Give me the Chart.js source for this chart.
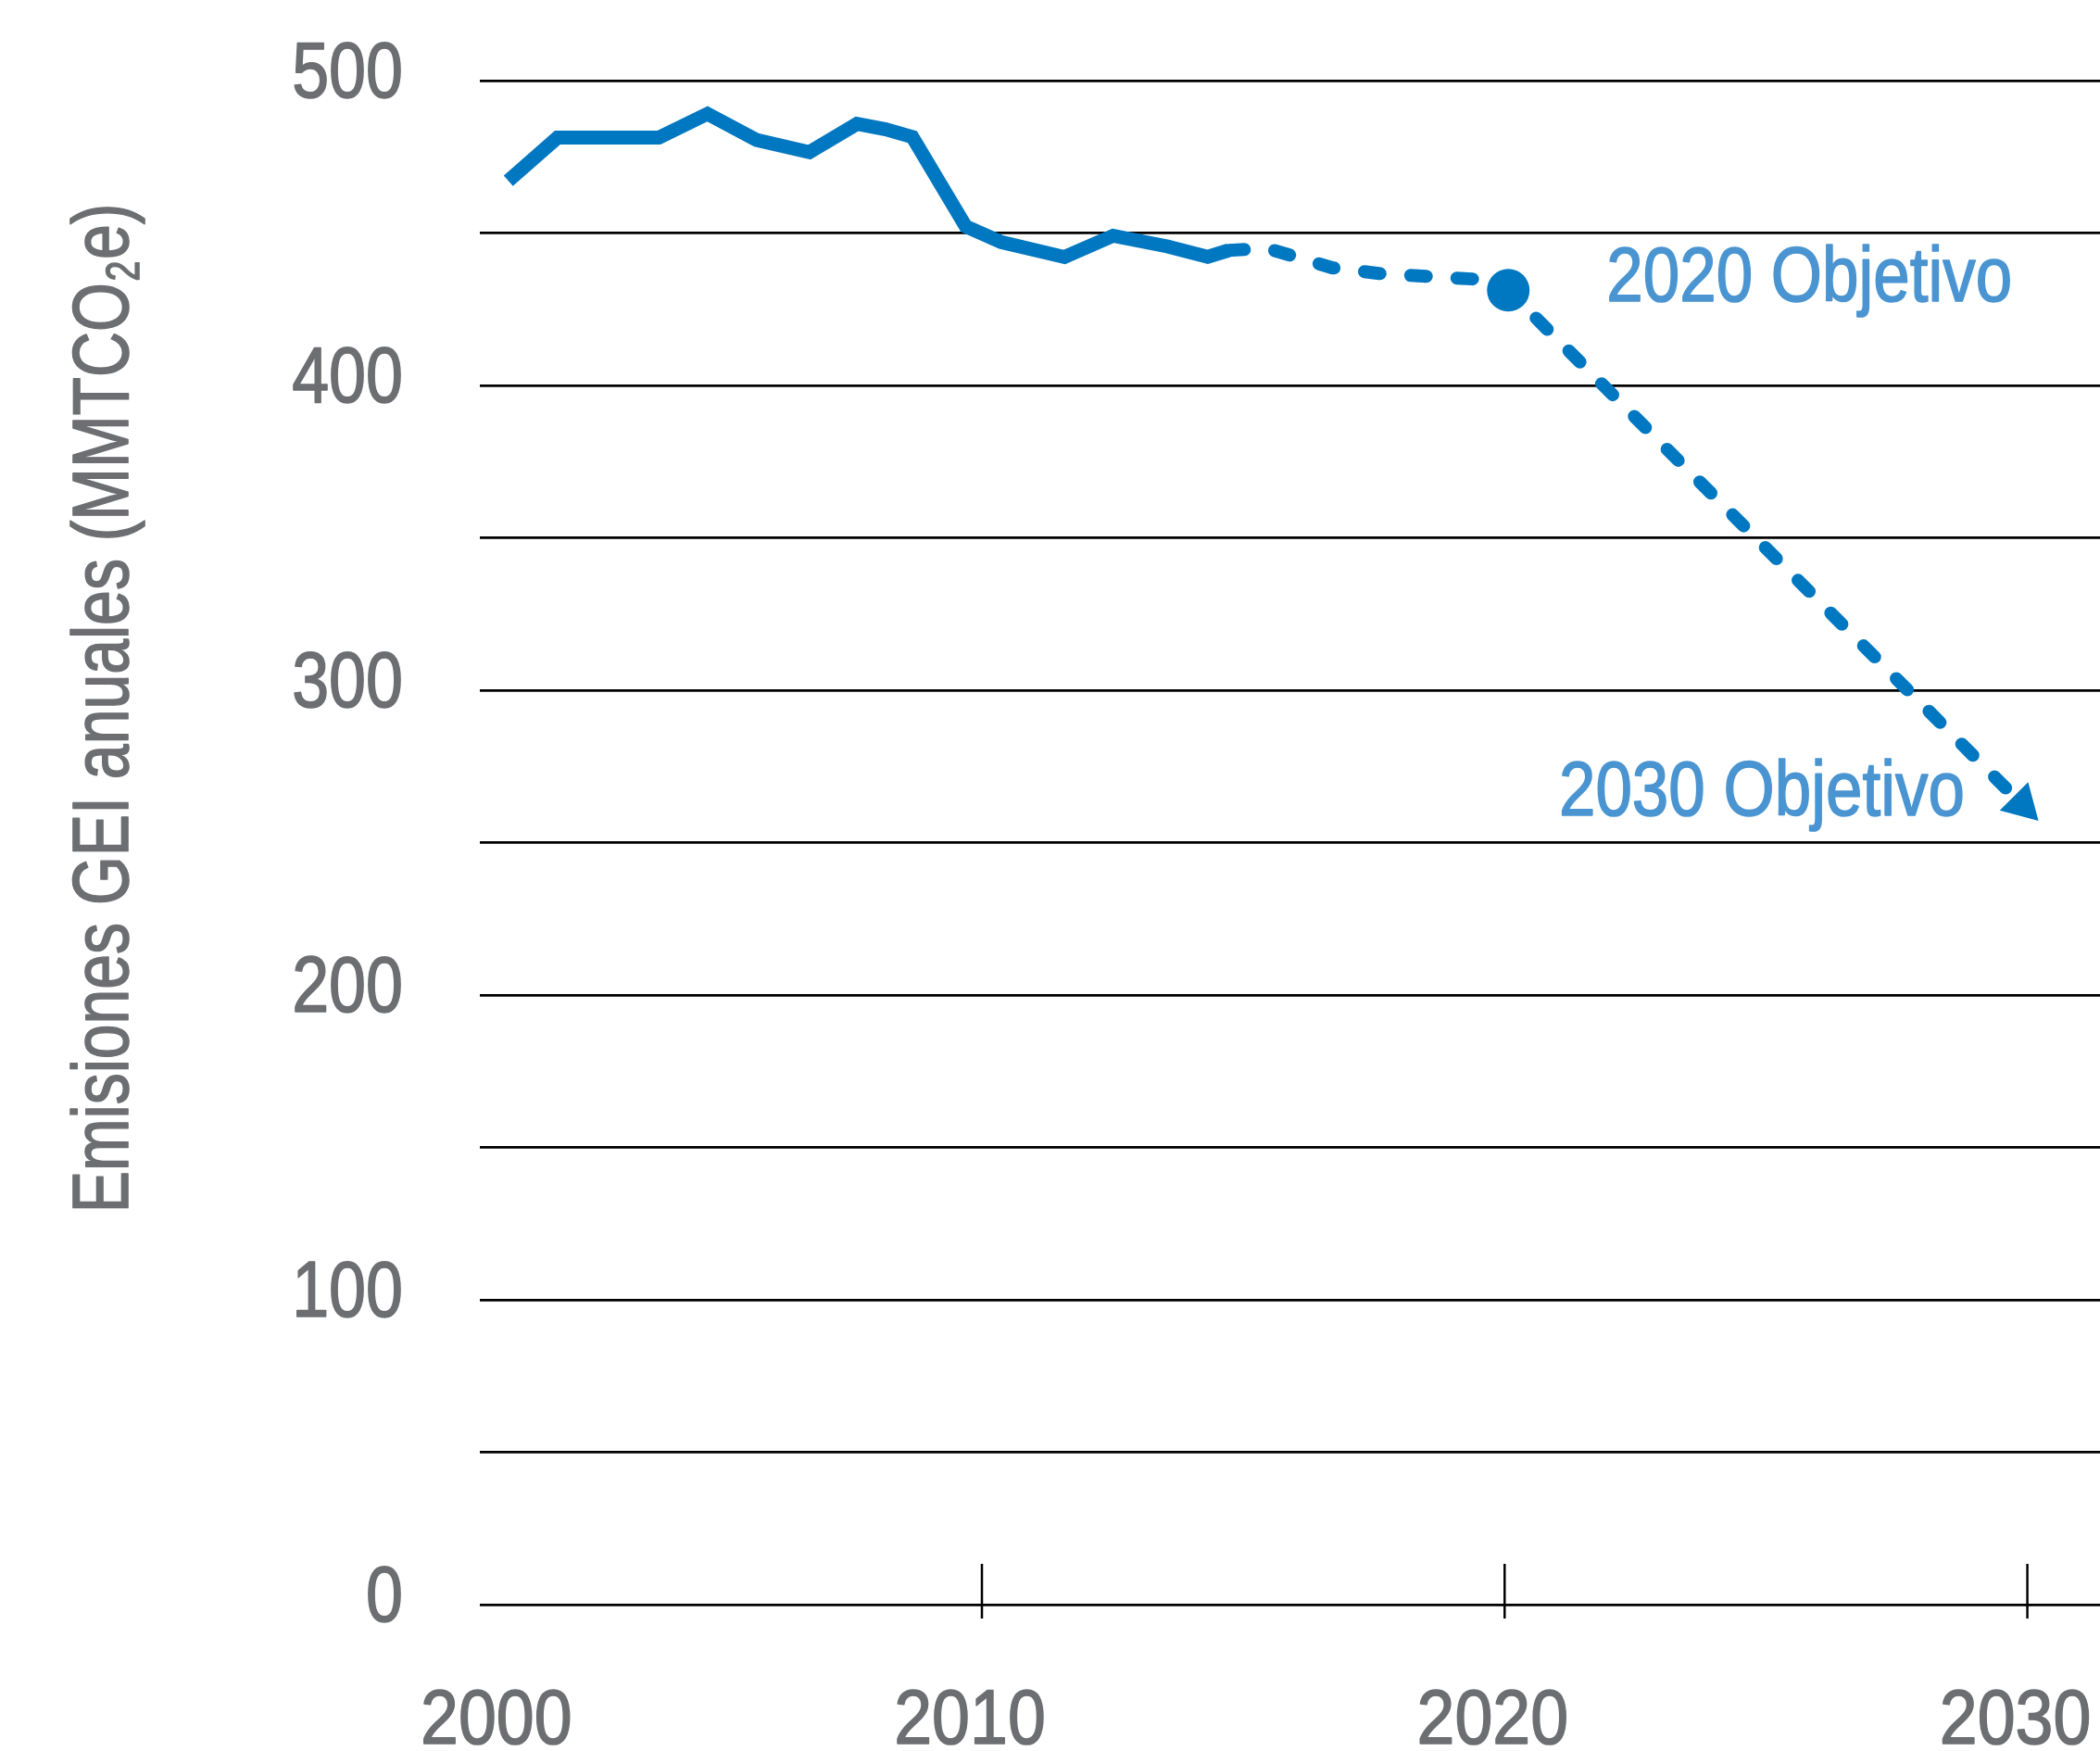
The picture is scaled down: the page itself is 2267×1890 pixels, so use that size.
<!DOCTYPE html>
<html>
<head>
<meta charset="utf-8">
<script src="https://cdn.jsdelivr.net/npm/chart.js@4.4.0/dist/chart.umd.min.js"></script>
<style>
  html, body { margin: 0; padding: 0; background: #fff; }
</style>
</head>
<body>
<canvas id="chart" width="2267" height="1890"></canvas>
<script>
// emissions (MMTCO2e); x as read against the printed year ticks
const histYears  = [2000.94, 2001.88, 2003.82, 2004.75, 2005.69, 2006.70, 2007.61, 2008.16, 2008.67, 2009.69, 2010.37, 2011.58, 2012.51, 2013.55, 2014.32, 2014.72];
const histValues = [467.1, 481.3, 481.3, 489.1, 480.5, 476.5, 485.8, 484.0, 481.5, 452.2, 447.0, 442.1, 449.1, 445.6, 442.2, 444.3];

// projection / targets (dashed)
const projYears  = [2014.72, 2015.45, 2016.70, 2017.60, 2019.40, 2020.07, 2029.90];
const projValues = [444.3, 445.0, 438.6, 436.7, 434.9, 431.2, 262.5];

const xTickMarks  = [2010, 2020, 2030];
const xTickLabels = ['2000', '2010', '2020', '2030'];
const yTitle = ['Emisiones GEI anuales (MMTCO', '2', 'e)'];
const target2020 = '2020 Objetivo';
const target2030 = '2030 Objetivo';

const BLUE = '#0077c1';
const LABEL_BLUE = '#4a95d1';
const GREY = '#6d6e71';
const FONT = '"Liberation Sans", Arial, sans-serif';
const SQUEEZE = 0.845;   // fake a condensed face

// condensed text, with a thin stroke to get closer to the medium weight
function narrowText(ctx, text, x, y, size, color, align, sx) {
  ctx.save();
  ctx.font = size + 'px ' + FONT;
  ctx.fillStyle = color;
  ctx.strokeStyle = color;
  ctx.lineWidth = 1.6;
  ctx.lineJoin = 'round';
  ctx.textAlign = align;
  ctx.textBaseline = 'alphabetic';
  ctx.translate(x, y);
  ctx.scale(sx || SQUEEZE, 1);
  ctx.fillText(text, 0, 0);
  ctx.strokeText(text, 0, 0);
  ctx.restore();
}

const extras = {
  id: 'extras',
  afterDatasetsDraw(chart) {
    const { ctx, scales: { x, y } } = chart;
    ctx.save();

    // short tick marks crossing the zero line
    const y0 = y.getPixelForValue(0);
    ctx.strokeStyle = '#000';
    ctx.lineWidth = 2.5;
    xTickMarks.forEach(v => {
      const px = x.getPixelForValue(v);
      ctx.beginPath();
      ctx.moveTo(px, y0 - 44);
      ctx.lineTo(px, y0 + 15);
      ctx.stroke();
    });

    // axis labels
    y.ticks.forEach((t, i) => {
      if (t.value % 100 !== 0) return;
      narrowText(ctx, String(t.value), 435, y.getPixelForTick(i) + 18, 85, GREY, 'right');
    });
    x.ticks.forEach((t, i) => {
      narrowText(ctx, xTickLabels[i], x.getPixelForTick(i) - 13, y0 + 150, 84, GREY, 'center', 0.875);
    });

    // target labels
    let px = x.getPixelForValue(projYears[5]);
    let py = y.getPixelForValue(projValues[5]);
    narrowText(ctx, target2020, px + 106, py + 12, 84, LABEL_BLUE, 'left');
    px = x.getPixelForValue(projYears[6]);
    py = y.getPixelForValue(projValues[6]);
    narrowText(ctx, target2030, px - 62, py + 12, 84, LABEL_BLUE, 'right');

    // rotated y title with subscript 2
    ctx.fillStyle = GREY;
    ctx.strokeStyle = GREY;
    ctx.lineWidth = 1.6;
    ctx.lineJoin = 'round';
    ctx.textAlign = 'left';
    ctx.textBaseline = 'alphabetic';
    ctx.translate(138, 766);
    ctx.rotate(-Math.PI / 2);
    ctx.scale(0.79, 1);
    const big = '86px ' + FONT, small = '50px ' + FONT;
    ctx.font = big;
    const wa = ctx.measureText(yTitle[0]).width;
    const wc = ctx.measureText(yTitle[2]).width;
    ctx.font = small;
    const wb = ctx.measureText(yTitle[1]).width;
    const sx = -(wa + wb + wc) / 2;
    const parts = [[yTitle[0], big, sx, 0], [yTitle[1], small, sx + wa + 2, 12], [yTitle[2], big, sx + wa + wb + 4, 0]];
    parts.forEach(([t, f, tx, ty]) => {
      ctx.font = f;
      ctx.fillText(t, tx, ty);
      ctx.strokeText(t, tx, ty);
    });

    ctx.restore();
  }
};

new Chart(document.getElementById('chart'), {
  type: 'line',
  data: {
    datasets: [
      {
        data: histYears.map((x, i) => ({ x, y: histValues[i] })),
        borderColor: BLUE,
        borderWidth: 15,
        borderJoinStyle: 'miter',
        pointRadius: 0,
        tension: 0
      },
      {
        data: projYears.map((x, i) => ({ x, y: projValues[i] })),
        borderColor: BLUE,
        borderWidth: 14,
        borderDash: [17, 33],
        borderCapStyle: 'round',
        tension: 0,
        pointRadius: c => c.dataIndex === 5 ? 23 : (c.dataIndex === 6 ? 25 : 0),
        pointStyle: c => c.dataIndex === 6 ? 'triangle' : 'circle',
        pointRotation: c => c.dataIndex === 6 ? 135 : 0,
        pointBackgroundColor: BLUE,
        pointBorderColor: BLUE,
        pointBorderWidth: 0
      }
    ]
  },
  options: {
    responsive: false,
    animation: false,
    layout: { autoPadding: false, padding: { top: 87, right: 0, bottom: 0, left: 0 } },
    plugins: { legend: { display: false }, tooltip: { enabled: false } },
    scales: {
      x: {
        type: 'linear',
        min: 2000.386,
        max: 2031.39,
        grid: { display: false },
        border: { display: false },
        afterBuildTicks: s => { s.ticks = [histYears[0], ...xTickMarks].map(v => ({ value: v })); },
        afterFit: s => { s.height = 158; s.paddingLeft = 0; s.paddingRight = 0; },
        ticks: { display: false, autoSkip: false }
      },
      y: {
        min: 0,
        max: 500,
        grid: { color: '#000', lineWidth: 2.7, drawTicks: false },
        border: { display: false },
        afterFit: s => { s.width = 517.5; s.paddingTop = 0; s.paddingBottom = 0; },
        ticks: { display: false, stepSize: 50 }
      }
    }
  },
  plugins: [extras]
});
</script>
</body>
</html>
